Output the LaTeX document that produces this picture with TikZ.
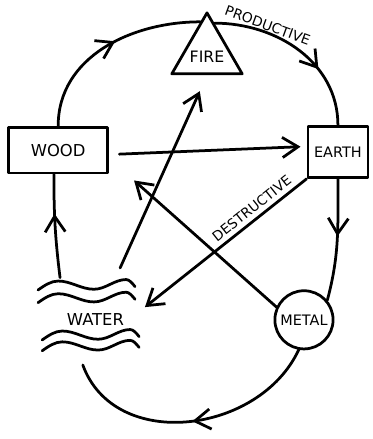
\documentclass[tikz,border=0pt]{standalone}
\usepackage{fontspec}
\setsansfont{DejaVu Sans}
\usepackage{tikz}
\usetikzlibrary{
  shapes.geometric, arrows.meta, calc, decorations.markings
}
\tikzset{
  elembox/.style={
    draw, line width=2.1pt, line join=round, align=center, inner sep=2pt,
    font=\sffamily\fontsize{11}{13}\selectfont
  },
  elemlabel/.style={
    align=center, font=\sffamily\fontsize{12.5}{14}\selectfont
  },
  cyclelabel/.style={
    font=\sffamily\fontsize{10.5}{12}\selectfont
  },
  sketchline/.style={
    line width=2.1pt, line cap=round, line join=round
  },
  destarrow/.style={
    sketchline, -{Straight Barb[length=4.2mm,width=5.4mm]}
  },
  flowmark/.style={
    postaction={decorate},
    decoration={markings, mark=at position #1 with
      {\arrow{Straight Barb[length=4.2mm,width=5.4mm]}}}
  },
}

\begin{document}
\begin{tikzpicture}
  \useasboundingbox (-5,-5.885) rectangle (5,5.885);

  % ── Elements ──
  \node[elembox, regular polygon, regular polygon sides=3, minimum size=2.18cm,
    inner sep=0pt, font=\sffamily\fontsize{12}{14}\selectfont]
    (fire) at (0.55,4.45) {\raisebox{-7pt}[0pt][0pt]{\makebox[0pt]{FIRE}}};
  \node[elembox, minimum width=2.65cm, minimum height=1.23cm,
    font=\sffamily\fontsize{12.5}{14}\selectfont]
    (wood) at (-3.44,1.86) {WOOD};
  \node[elembox, minimum width=1.61cm, minimum height=1.37cm]
    (earth) at (4.06,1.81) {EARTH};
  \node[elembox, circle, minimum size=1.56cm] (metal) at (3.15,-2.69) {METAL};
  \node[elemlabel] (water) at (-2.44,-2.69) {WATER};

  % waves round the water label
  \foreach \dx/\dy in {-1.54/0.80, -1.54/0.46, -1.43/-0.54, -1.43/-0.83}
    \draw[sketchline] ([shift={(\dx,\dy)}]water.center)
      sin ++(0.54,0.24) cos ++(0.48,-0.11) sin ++(0.48,-0.11)
      cos ++(0.43,0.13) sin ++(0.43,0.13) cos ++(0.24,-0.19);

  \coordinate (water-w) at ([shift={(-0.95,1.13)}]water.center);
  \coordinate (water-n) at ([shift={(0.66,1.39)}]water.center);
  \coordinate (water-e) at ([shift={(1.06,0.13)}]water.center);
  \coordinate (water-s) at ([shift={(-0.34,-1.21)}]water.center);
  \coordinate (fire-l) at ($(fire.corner 1)!0.18!(fire.corner 2)$);
  \coordinate (fire-r) at ($(fire.corner 1)!0.2!(fire.corner 3)$);

  % ── Productive cycle ──
  \draw[sketchline, flowmark=0.55] (wood.north) to[out=90, in=180] (fire-l);
  \draw[sketchline, flowmark=0.66] (fire-r) to[out=0, in=90]
    node[cyclelabel, pos=0.28, sloped, above=-3pt] {PRODUCTIVE} (earth.north);
  \draw[sketchline, flowmark=0.47] (earth.south) to[out=-90, in=75] (metal.40);
  \draw[sketchline, flowmark=0.5] (metal.-100)
    to[out=-115, in=-70, looseness=1.1] (water-s);
  \draw[sketchline, flowmark=0.62] (water-w) to[out=97, in=-90] (wood.-100);

  % ── Destructive cycle ──
  \draw[destarrow, shorten <=2.8mm, shorten >=1.6mm] (wood.-5) -- (earth.170);
  \draw[destarrow, shorten >=3.4mm] (earth.south west) --
    node[cyclelabel, pos=0.28, sloped, above] {DESTRUCTIVE} (water-e);
  \draw[destarrow, shorten >=4.7mm] (water-n) -- (fire.south);
  \draw[destarrow, shorten >=9mm] (metal.155) -- (wood.-9);
\end{tikzpicture}
\end{document}
